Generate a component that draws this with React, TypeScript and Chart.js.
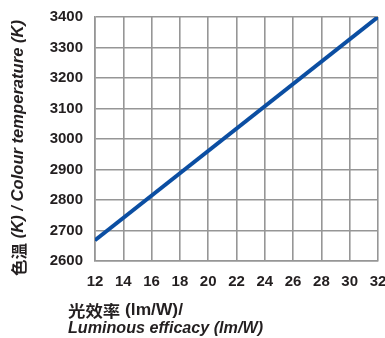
import React, { useEffect, useRef } from "react";
import { Chart, registerables } from "chart.js";

Chart.register(...registerables);

const efficacy = [12, 32];
const colourTemp = [2668, 3400];
const yTitleZh = "色溫";
const yTitleEn = " (K) / Colour temperature (K)";
const xTitleLine1 = "光效率 (lm/W)/";
const xTitleLine2 = "Luminous efficacy (lm/W)";

const W = 385;
const H = 338;
const TEXT = "#231f20";
const GRID = "#969696";

const titlePlugin = {
  id: "customTitles",
  afterDraw(chart: any) {
    const ctx = chart.ctx as CanvasRenderingContext2D;
    ctx.save();
    ctx.fillStyle = TEXT;
    ctx.textBaseline = "middle";
    const zhFont = "bold 16px 'Noto Sans CJK TC', 'Noto Sans CJK SC', sans-serif";
    const enFont = "italic bold 16px 'Liberation Sans', Arial, sans-serif";
    ctx.font = zhFont;
    const zhW = ctx.measureText(yTitleZh).width;
    ctx.font = enFont;
    const enW = ctx.measureText(yTitleEn).width;
    const sx = 256 / (zhW + enW);
    ctx.save();
    ctx.translate(19, 276);
    ctx.rotate(-Math.PI / 2);
    ctx.scale(sx, 1);
    ctx.textAlign = "left";
    ctx.font = zhFont;
    ctx.fillText(yTitleZh, 0, 0);
    ctx.font = enFont;
    ctx.fillText(yTitleEn, zhW, 0);
    ctx.restore();

    const l1Zh = "光效率";
    const l1En = xTitleLine1.slice(l1Zh.length);
    const boldFont = "bold 16px 'Liberation Sans', Arial, sans-serif";
    ctx.font = zhFont;
    const l1ZhW = ctx.measureText(l1Zh).width;
    ctx.font = boldFont;
    const l1EnW = ctx.measureText(l1En).width;
    ctx.save();
    ctx.translate(68, 311);
    ctx.scale(115 / (l1ZhW + l1EnW), 1);
    ctx.font = zhFont;
    ctx.fillText(l1Zh, 0, 0);
    ctx.font = boldFont;
    ctx.fillText(l1En, l1ZhW, 0);
    ctx.restore();

    ctx.font = enFont;
    const l2W = ctx.measureText(xTitleLine2).width;
    ctx.save();
    ctx.translate(68, 329);
    ctx.scale(195 / l2W, 1);
    ctx.fillText(xTitleLine2, 0, 0);
    ctx.restore();
    ctx.restore();
  },
};

export default function App() {
  const ref = useRef<HTMLCanvasElement | null>(null);
  useEffect(() => {
    if (!ref.current) return;
    const chart = new Chart(ref.current, {
      type: "line",
      data: {
        datasets: [
          {
            data: efficacy.map((x, i) => ({ x, y: colourTemp[i] })),
            borderColor: "#0b4ea2",
            borderWidth: 4,
            pointRadius: 0,
            tension: 0,
          },
        ],
      },
      options: {
        responsive: false,
        animation: false,
        layout: { padding: { top: 17, right: 7, left: 0, bottom: 0 } },
        plugins: { legend: { display: false }, tooltip: { enabled: false } },
        scales: {
          x: {
            type: "linear",
            min: 12,
            max: 32,
            ticks: {
              stepSize: 2,
              color: TEXT,
              font: { family: "'Liberation Sans', Arial, sans-serif", size: 15, weight: "bold" },
              padding: 12,
              maxRotation: 0,
              callback: (v: any) => String(v),
            },
            grid: { color: GRID, lineWidth: 1.6, drawTicks: false },
            border: { color: GRID, width: 1.6 },
            afterFit: (s: any) => {
              s.height = 77;
              s.paddingLeft = 0;
              s.paddingRight = 0;
            },
          },
          y: {
            min: 2600,
            max: 3400,
            ticks: {
              stepSize: 100,
              color: TEXT,
              font: { family: "'Liberation Sans', Arial, sans-serif", size: 15, weight: "bold" },
              padding: 12,
              callback: (v: any) => String(v),
            },
            grid: { color: GRID, lineWidth: 1.6, drawTicks: false },
            border: { color: GRID, width: 1.6 },
            afterFit: (s: any) => {
              s.width = 95;
              s.paddingTop = 0;
              s.paddingBottom = 0;
            },
          },
        },
      },
      plugins: [titlePlugin],
    } as any);
    return () => chart.destroy();
  }, []);
  return (
    <div style={{ position: "absolute", left: 0, top: 0, width: W, height: H, background: "#fff" }}>
      <canvas ref={ref} width={W} height={H} style={{ width: W, height: H, display: "block" }} />
    </div>
  );
}
